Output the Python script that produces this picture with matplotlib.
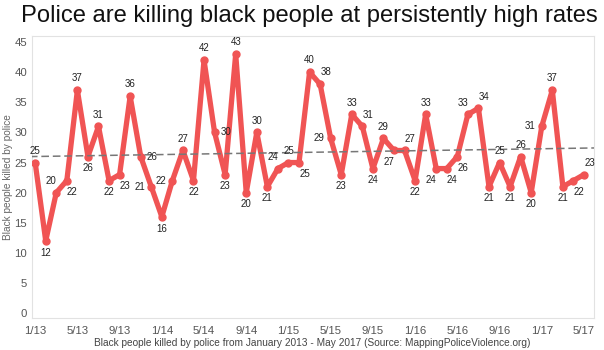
import numpy as np
import matplotlib
matplotlib.use("Agg")
import matplotlib.pyplot as plt

plt.rcParams['font.family'] = ['Liberation Sans', 'DejaVu Sans']

# Monthly counts, Jan 2013 - May 2017
values = [25, 12, 20, 22, 37, 26, 31, 22, 23, 36, 26, 21,
          16, 22, 27, 22, 42, 30, 23, 43, 20, 30, 21, 24,
          25, 25, 40, 38, 29, 23, 33, 31, 24, 29, 27, 27,
          22, 33, 24, 24, 26, 33, 34, 21, 25, 21, 26, 20,
          31, 37, 21, 22, 23]
tick_labels = ['1/13', '5/13', '9/13', '1/14', '5/14', '9/14', '1/15',
               '5/15', '9/15', '1/16', '5/16', '9/16', '1/17', '5/17']
yticks = [0, 5, 10, 15, 20, 25, 30, 35, 40, 45]

# label placement codes (style)
place = ['a', 'b', 'al', 'br', 'a', 'b', 'a', 'b', 'br', 'a', 'r', 'l',
         'b', 'l', 'a', 'b', 'a', 'r', 'b', 'a', 'b', 'a', 'b', 'al',
         'a', 'br', 'a', 'ar', 'l', 'b', 'a', 'ar', 'b', 'a', 'bl', 'ar',
         'b', 'a', 'bl', 'br', 'br', 'al', 'ar', 'b', 'a', 'b', 'a', 'b',
         'l', 'a', 'b', 'br', 'ar']
offs = {'a': (0, 8.5), 'b': (0, -8.5), 'l': (-8.5, 0), 'r': (8, 0),
        'al': (-3.5, 8.5), 'ar': (4, 8.5), 'bl': (-4, -8.5), 'br': (4, -8.5)}

x = np.arange(len(values))
y = np.array(values, dtype=float)

fig = plt.figure(figsize=(6.04, 3.5), dpi=100)
ax = fig.add_axes([32/604, 1 - 318/350, (594-32)/604, (318-36)/350])

line_color = '#F05454'
ax.plot(x, y, color=line_color, lw=3.8, solid_joinstyle='round',
        solid_capstyle='round', zorder=3)
ax.plot(x, y, 'o', color=line_color, ms=5, zorder=3)

# trend line
k, b = np.polyfit(x, y, 1)
xl = np.array([-0.5, len(values) - 0.05])
ax.plot(xl, k * xl + b, ls=(0, (5, 2.5)), color='#777777', lw=1.1, zorder=4)

for xi, yi, p in zip(x, values, place):
    ax.annotate(str(yi), (xi, yi), xytext=offs[p], textcoords='offset points',
                ha='center', va='center', fontsize=7, color='#222222', zorder=5)

ax.set_xlim(-0.3, 52.95)
ax.set_ylim(-0.8, 46)
ax.set_yticks(yticks)
ax.set_xticks(np.arange(0, len(values), 4))
ax.set_xticklabels(tick_labels)
ax.tick_params(axis='both', length=0, labelsize=8.2, colors='#555555')
ax.tick_params(axis='x', pad=5.4)
ax.tick_params(axis='y', pad=3.6)
for s in ax.spines.values():
    s.set_color('#e2e2e2')
    s.set_linewidth(0.8)

fig.text(8.5/604, 1 - 177/350, 'Black people killed by police', rotation=90,
         ha='center', va='center', fontsize=7.3, color='#666666')
fig.text(312/604, 1 - 342.5/350,
         'Black people killed by police from January 2013 - May 2017 (Source: MappingPoliceViolence.org)',
         ha='center', va='center', fontsize=7.3, color='#444444')

fig.text(309/604, 1 - 16/350, 'Police are killing black people at persistently high rates',
         ha='center', va='center', fontsize=17.1, color='#111111')

fig.savefig('out.png', dpi=100)
